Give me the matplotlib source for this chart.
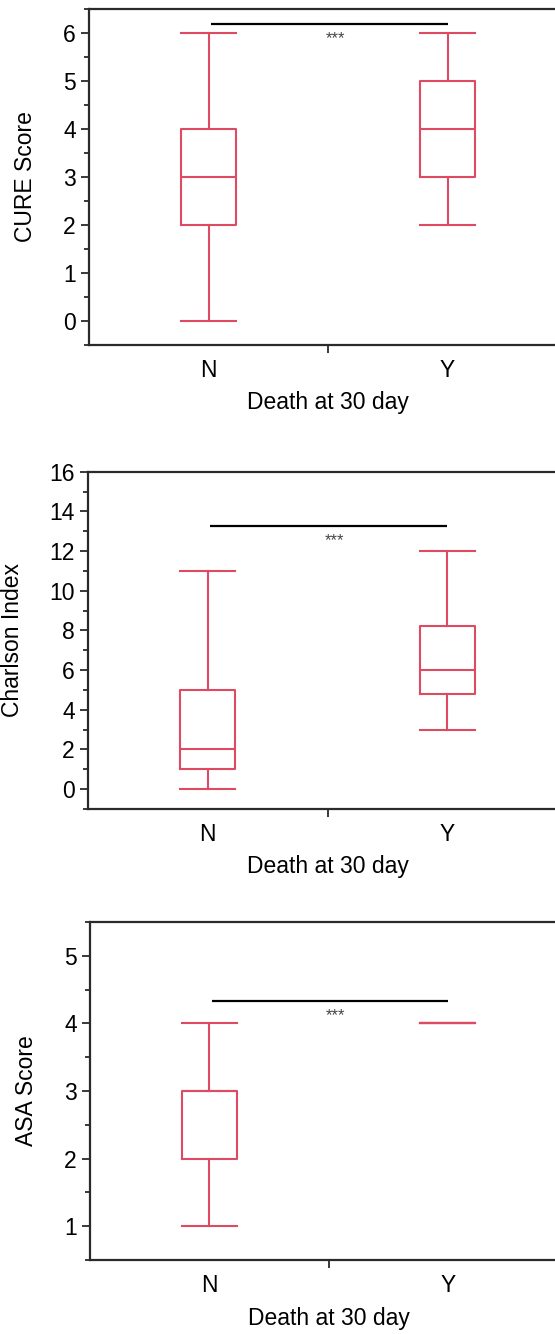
import matplotlib
matplotlib.use("Agg")
import matplotlib.pyplot as plt
from matplotlib.ticker import MultipleLocator, FixedLocator

plt.rcParams['font.family'] = ['Liberation Sans', 'DejaVu Sans']

# ---- data ----
categories = ["N", "Y"]
xlabel_text = "Death at 30 day"

cure_label = "CURE Score"
cure_whislo = [0, 2]
cure_q1 = [2, 3]
cure_med = [3, 4]
cure_q3 = [4, 5]
cure_whishi = [6, 6]
cure_sig = 6.18

charlson_label = "Charlson Index"
charlson_whislo = [0, 3]
charlson_q1 = [1, 4.8]
charlson_med = [2, 6]
charlson_q3 = [5, 8.2]
charlson_whishi = [11, 12]
charlson_sig = 13.27

asa_label = "ASA Score"
asa_whislo = [1, 4]
asa_q1 = [2, 4]
asa_med = [3, 4]
asa_q3 = [3, 4]
asa_whishi = [4, 4]
asa_sig = 4.33

sig_text = "***"

RED = "#DE4A62"
SPINE = "#2a2a2a"

W, H = 555, 1334
fig = plt.figure(figsize=(W / 100, H / 100), dpi=100)


def px_axes(left, top, bottom, right=567):
    return [left / W, 1 - bottom / H, (right - left) / W, (bottom - top) / H]


panels = [
    dict(rect=px_axes(89, 9, 345), label=cure_label,
         stats=(cure_whislo, cure_q1, cure_med, cure_q3, cure_whishi),
         ylim=(-0.5, 6.5), major=1, minor=0.5, sig=cure_sig, ylx=25),
    dict(rect=px_axes(88, 471.7, 809), label=charlson_label,
         stats=(charlson_whislo, charlson_q1, charlson_med, charlson_q3, charlson_whishi),
         ylim=(-1, 16), major=2, minor=1, sig=charlson_sig, ylx=12.5),
    dict(rect=px_axes(90, 922, 1260), label=asa_label,
         stats=(asa_whislo, asa_q1, asa_med, asa_q3, asa_whishi),
         ylim=(0.5, 5.5), major=1, minor=0.5, sig=asa_sig, ylx=26.5),
]

for p in panels:
    ax = fig.add_axes(p["rect"])
    wl, q1, md, q3, wh = p["stats"]
    bstats = []
    for i, c in enumerate(categories):
        bstats.append(dict(label=c, whislo=wl[i], q1=q1[i], med=md[i],
                           q3=q3[i], whishi=wh[i], fliers=[]))
    ax.bxp(bstats, positions=[0, 1], widths=0.23, capwidths=0.23,
           showfliers=False, patch_artist=False,
           boxprops=dict(color=RED, linewidth=1.5),
           whiskerprops=dict(color=RED, linewidth=1.5),
           capprops=dict(color=RED, linewidth=1.5),
           medianprops=dict(color=RED, linewidth=1.5))
    ax.set_xlim(-0.5, 1.5)
    ax.set_ylim(*p["ylim"])

    # significance bar
    ax.plot([0.01, 1.0], [p["sig"], p["sig"]], color="black", lw=1.6,
            solid_capstyle="butt")
    ax.annotate(sig_text, xy=(0.53, p["sig"]), xytext=(0, -5),
                textcoords="offset points", ha="center", va="top",
                fontsize=12, color="#444444")

    # y axis ticks
    ax.yaxis.set_major_locator(MultipleLocator(p["major"]))
    ax.yaxis.set_minor_locator(MultipleLocator(p["minor"]))
    ax.tick_params(axis="y", which="major", direction="out", length=5.5,
                   width=1.3, color=SPINE, labelsize=16.5, pad=4)
    ax.tick_params(axis="y", which="minor", direction="out", length=3.5,
                   width=1.3, color=SPINE)

    # x axis ticks: labels at categories, single tick between them
    ax.set_xticks([0, 1])
    ax.set_xticklabels(categories)
    ax.xaxis.set_minor_locator(FixedLocator([0.5]))
    ax.tick_params(axis="x", which="major", length=0, labelsize=16.5, pad=10)
    ax.tick_params(axis="x", which="minor", direction="out", length=5.5,
                   width=1.3, color=SPINE)

    for s in ax.spines.values():
        s.set_color(SPINE)
        s.set_linewidth(1.6)

    ax_h_px = p["rect"][3] * H
    ax_w_px = p["rect"][2] * W
    left_px = p["rect"][0] * W
    ax.set_ylabel(p["label"], fontsize=16.5, va="center")
    ax.yaxis.set_label_coords((p["ylx"] - left_px) / ax_w_px, 0.5)
    ax.set_xlabel(xlabel_text, fontsize=16.5, va="center")
    ax.xaxis.set_label_coords(0.5, -58 / ax_h_px)

fig.savefig("out.png", dpi=100)
